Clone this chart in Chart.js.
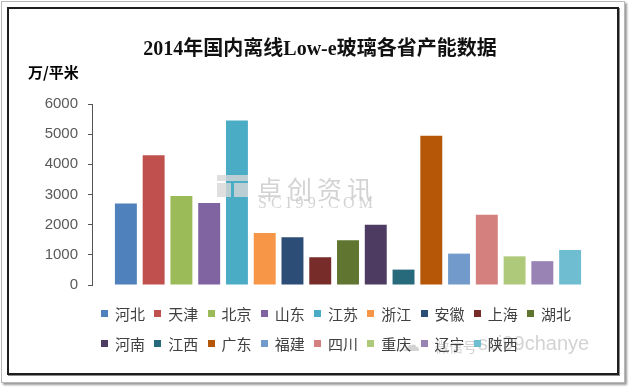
<!DOCTYPE html>
<html>
<head>
<meta charset="utf-8">
<script src="https://cdn.jsdelivr.net/npm/chart.js@4/dist/chart.umd.min.js"></script>
<style>
  body { margin: 0; background: #fff; }
  #wrap { position: relative; width: 629px; height: 387px; overflow: hidden; }
  #outer { position: absolute; left: 1px; top: 1px; width: 622px; height: 380px; border: 1px solid #b8b8b8; box-shadow: 2px 2px 2px #9a9a9a; }
  #inner { position: absolute; left: 7px; top: 7px; width: 608px; height: 364px; border: 2px solid #1e1e1e; box-shadow: 1px 1px 0 #8a8a8a; }
  canvas { position: absolute; left: 0; top: 0; }
  #legend { position: absolute; left: 101px; top: 299px; display: grid; grid-template-columns: repeat(9, 53.25px); grid-auto-rows: 29.5px; }
  #legend .item { display: flex; align-items: center; font: 15px "Noto Sans CJK SC", sans-serif; color: #404040; line-height: 1; white-space: nowrap; }
  #legend .box { width: 7px; height: 7px; margin-right: 7px; flex: none; }
  .wm { position: absolute; color: rgba(200,200,200,0.8); white-space: nowrap; line-height: 1; }
  .blk { position: absolute; background: rgba(215,215,215,0.8); }
</style>
</head>
<body>
<div id="wrap">
  <div id="outer"></div>
  <div id="inner"></div>
  <canvas id="chart" width="629" height="387"></canvas>
  <div class="blk" style="left:217px;top:175px;width:31px;height:6px"></div>
  <div class="blk" style="left:217px;top:183px;width:14px;height:14px"></div>
  <div class="blk" style="left:234px;top:183px;width:14px;height:14px"></div>
  <div class="wm" style="left:257px;top:170px;font:25px 'Noto Sans CJK SC';letter-spacing:5px">卓创资讯</div>
  <div class="wm" style="left:258px;top:194px;font:16px 'Liberation Serif';letter-spacing:4.2px">SCI99.COM</div>
  <div class="wm" style="left:402px;top:334px;font:18px 'DejaVu Sans'">☁</div>
  <div class="wm" style="left:435px;top:336px;font:14px 'Noto Sans CJK SC'">微信号</div>
  <div class="wm" style="left:478px;top:332px;font:20px 'Liberation Sans'">sci99chanye</div>
  <div id="legend"></div>
</div>
<script>
const provinces = ["河北", "天津", "北京", "山东", "江苏", "浙江", "安徽", "上海", "湖北",
                   "河南", "江西", "广东", "福建", "四川", "重庆", "辽宁", "陕西"];
const capacity = [2700, 4300, 2950, 2720, 5450, 1720, 1580, 920, 1480,
                  2000, 510, 4950, 1040, 2330, 950, 790, 1160];
const yTicks = [0, 1000, 2000, 3000, 4000, 5000, 6000];
const colors = ["#4F81BD", "#C0504D", "#9BBB59", "#8064A2", "#4BACC6", "#F79646", "#2C4D75", "#772C2A", "#5F7530",
                "#4D3B62", "#276A7C", "#B65708", "#729ACA", "#D3807E", "#AFC97A", "#9983B5", "#6FBDD1"];

// legend as html, same order/colours as the bars
const legendEl = document.getElementById("legend");
provinces.forEach((p, i) => {
  const item = document.createElement("div");
  item.className = "item";
  item.innerHTML = `<span class="box" style="background:${colors[i]}"></span><span>${p}</span>`;
  legendEl.appendChild(item);
});

const hiddenAxis = w => ({
  display: true,
  min: yTicks[0], max: yTicks[yTicks.length - 1],
  ticks: { display: false },
  grid: { display: false },
  border: { display: false },
  afterFit: s => { s.width = w; }
});

const ctx = document.getElementById("chart").getContext("2d");
const chart = new Chart(ctx, {
  type: "bar",
  data: {
    labels: provinces,
    datasets: [{
      label: "产能",
      data: capacity,
      backgroundColor: colors,
      borderWidth: 0,
      categoryPercentage: 1,
      barPercentage: 0.79,
      yAxisID: "y"
    }]
  },
  options: {
    responsive: false,
    animation: false,
    layout: { padding: { left: 28, right: 17, top: 0, bottom: 102 } },
    plugins: {
      legend: { display: false },
      tooltip: { enabled: false },
      title: {
        display: true,
        text: "2014年国内离线Low-e玻璃各省产能数据",
        color: "#111",
        font: { family: "'Liberation Serif', 'Noto Sans CJK SC'", size: 20, weight: "bold" },
        padding: { top: 38, bottom: 0 }
      },
      subtitle: {
        display: true,
        text: "万/平米",
        align: "start",
        color: "#000",
        font: { family: "'Noto Sans CJK SC'", size: 15, weight: "bold" },
        padding: { top: 1, bottom: 23 }
      }
    },
    scales: {
      x: { display: false },
      y: {
        position: "left",
        weight: 1,
        min: yTicks[0],
        max: yTicks[yTicks.length - 1],
        afterBuildTicks: s => { s.ticks = yTicks.map(v => ({ value: v })); },
        ticks: {
          color: "#595959",
          font: { family: "'Liberation Sans'", size: 15 },
          padding: 10,
          callback: v => String(v)
        },
        grid: { drawOnChartArea: false, drawTicks: true, tickLength: 4, color: "#555" },
        border: { display: true, color: "#555", width: 1 },
        afterFit: s => { s.width = 64; }
      },
      gap: Object.assign({ position: "left", weight: 0 }, hiddenAxis(20)),
      rightPad: Object.assign({ position: "right", weight: 0 }, hiddenAxis(28))
    }
  }
});
</script>
</body>
</html>
